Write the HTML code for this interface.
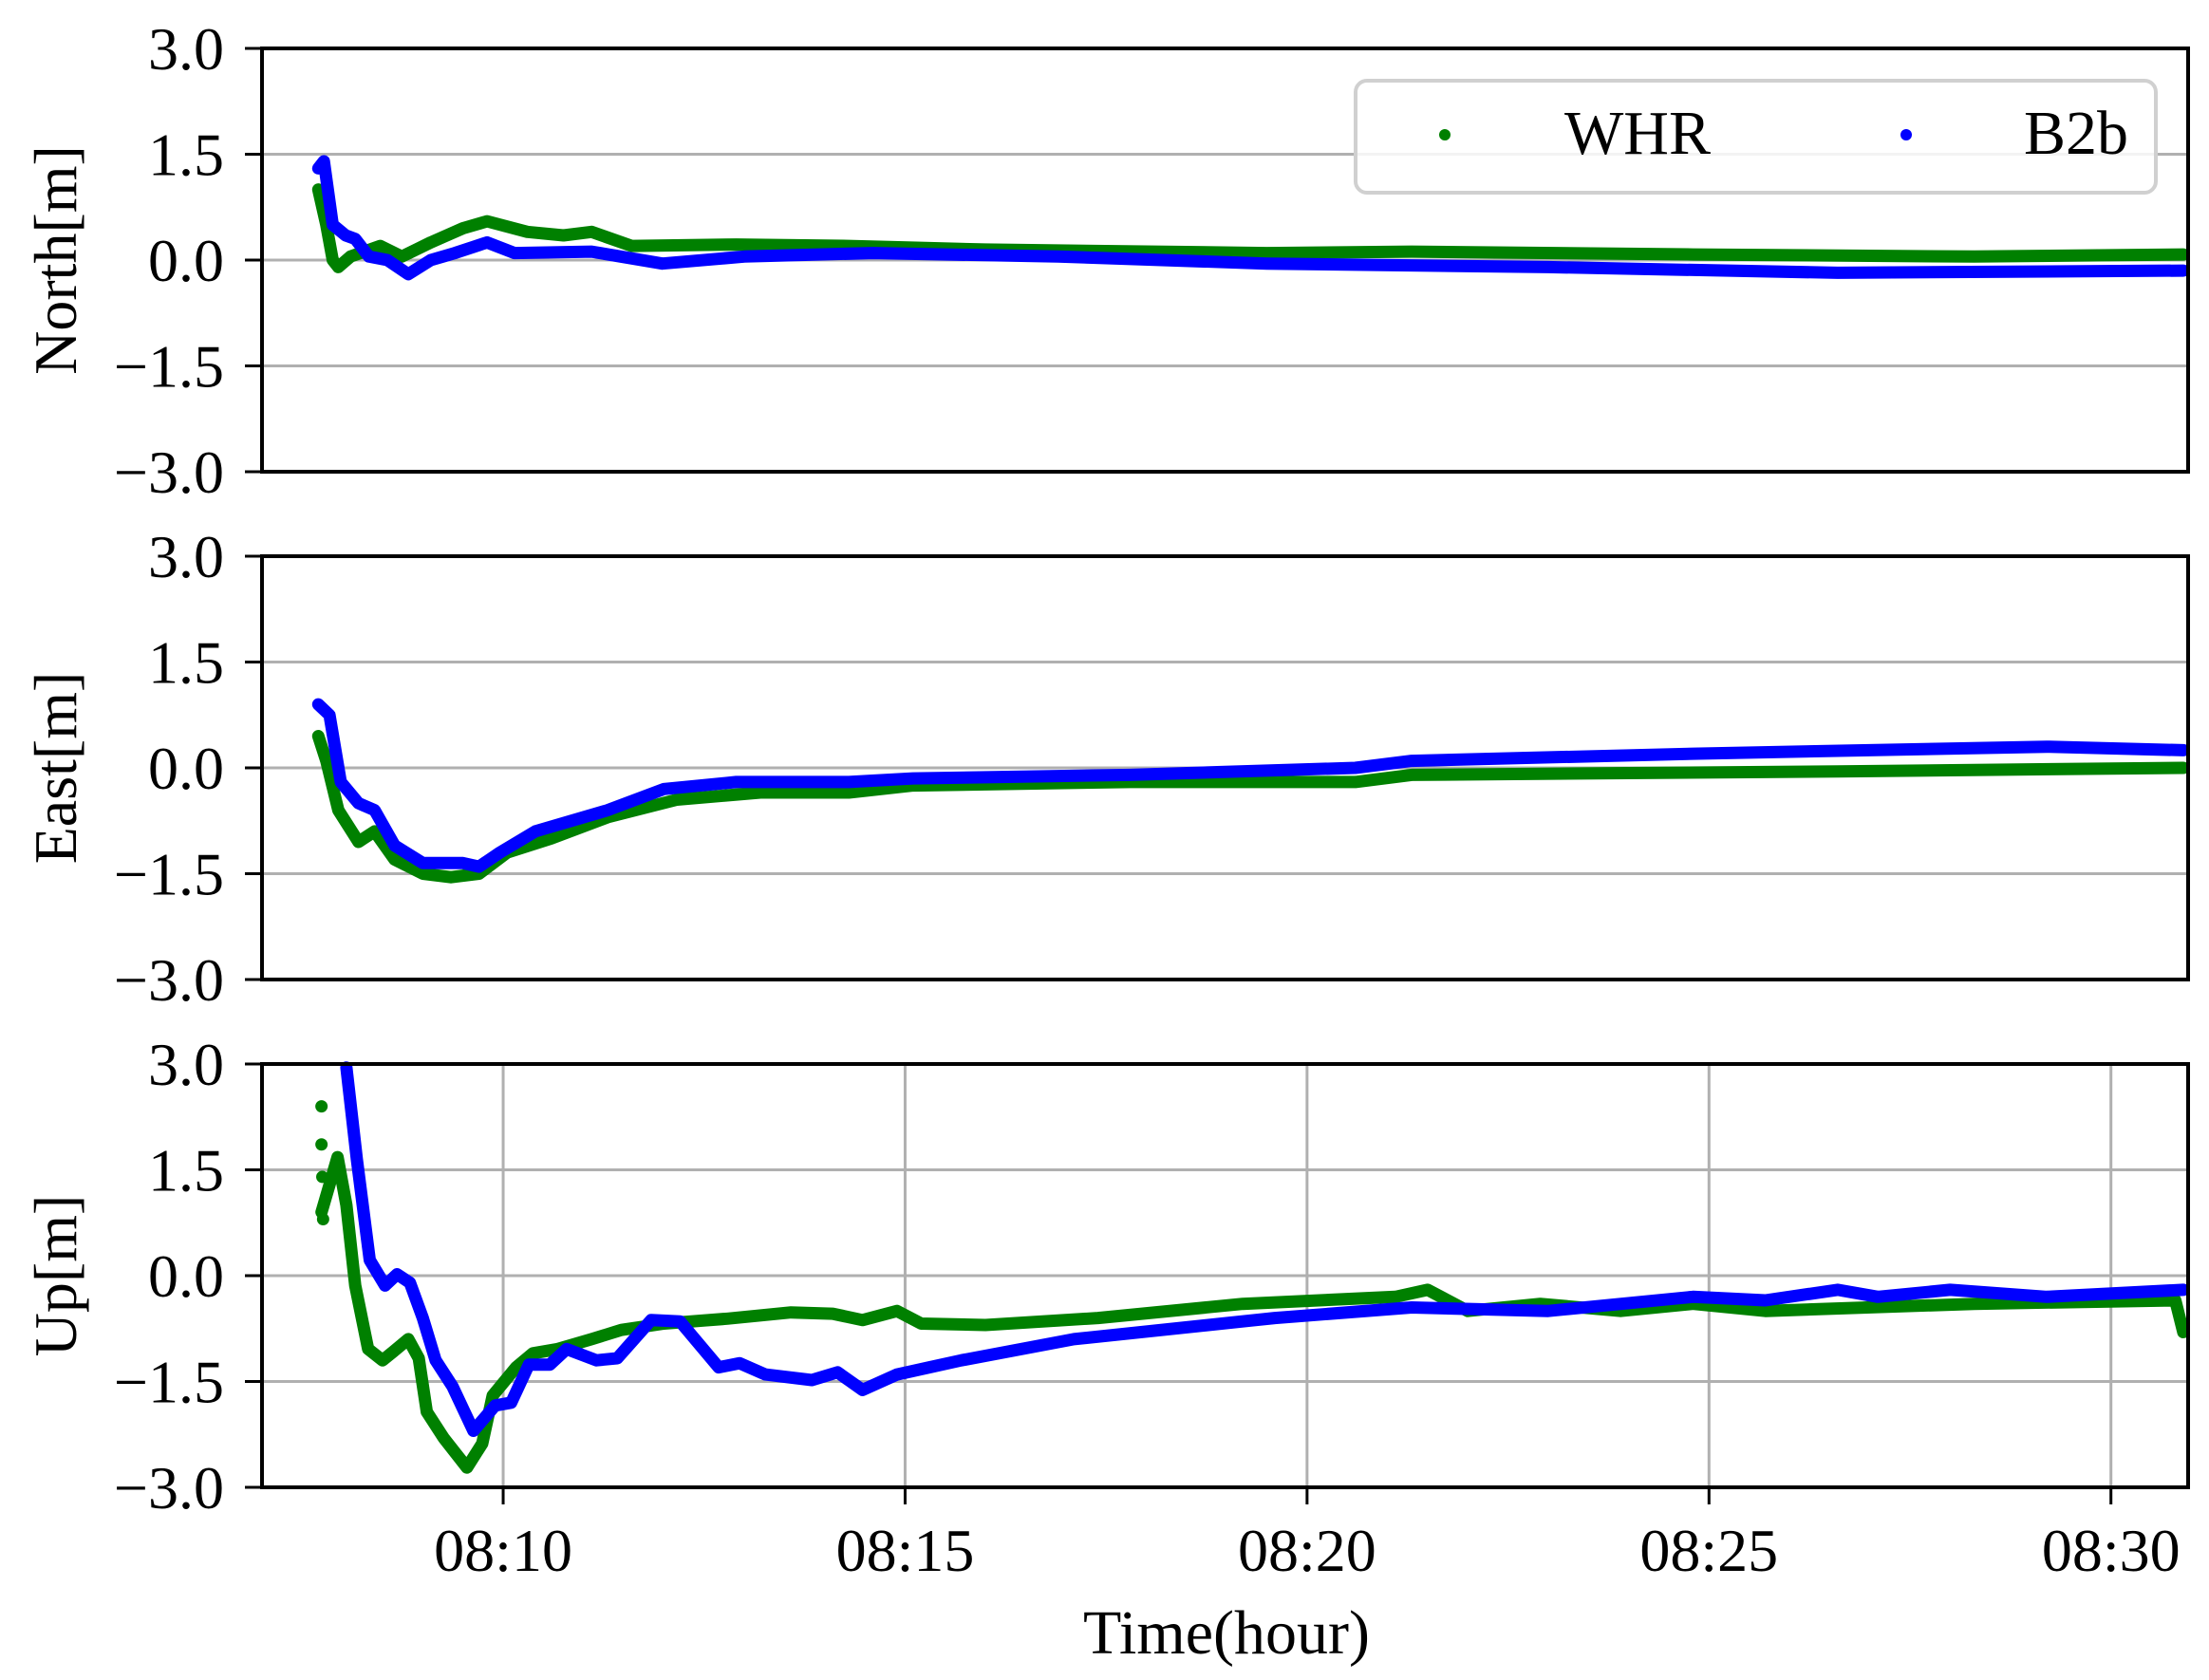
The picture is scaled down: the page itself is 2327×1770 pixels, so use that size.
<!DOCTYPE html>
<html><head><meta charset="utf-8"><style>
html,body{margin:0;padding:0;background:#fff;}
svg{display:block;font-family:"Liberation Serif","DejaVu Serif",serif;}
</style></head><body>
<svg id="chart" width="2327" height="1770" viewBox="0 0 2327 1770" xmlns="http://www.w3.org/2000/svg"></svg>
<script>
const xTickVals=[10,15,20,25,30];
const xTickLabels=["08:10","08:15","08:20","08:25","08:30"];
const yTickVals=[3,1.5,0,-1.5,-3];
const yTickLabels=["3.0","1.5","0.0","\u22121.5","\u22123.0"];
const panelNames=["North[m]","East[m]","Up[m]"];
const northT_whr=[7.7,7.8,7.88,7.95,8.1,8.47,8.74,9.1,9.5,9.8,10.3,10.75,11.1,11.6,12.9,14.3,16,19.5,21.3,24.8,28.3,30.9];
const northV_whr=[1.0,0.5,0.0,-0.1,0.05,0.2,0.05,0.25,0.45,0.55,0.4,0.35,0.4,0.2,0.22,0.2,0.15,0.1,0.12,0.08,0.05,0.08];
const northT_b2b=[7.7,7.77,7.88,8.04,8.16,8.33,8.56,8.82,9.1,9.4,9.8,10.14,11.1,11.98,13.0,14.6,16.9,19.5,23,26.6,30.9];
const northV_b2b=[1.3,1.4,0.5,0.35,0.3,0.05,0.0,-0.2,0.0,0.1,0.25,0.1,0.12,-0.05,0.05,0.1,0.05,-0.05,-0.1,-0.18,-0.15];
const eastT_whr=[7.7,7.8,7.95,8.2,8.4,8.65,9.0,9.35,9.7,10.05,10.6,11.3,12.16,13.2,14.3,15.1,17.8,20.6,21.3,26.6,30.9];
const eastV_whr=[0.45,0.1,-0.6,-1.05,-0.9,-1.3,-1.5,-1.55,-1.5,-1.2,-1.0,-0.7,-0.45,-0.35,-0.35,-0.25,-0.2,-0.2,-0.1,-0.05,0.0];
const eastT_b2b=[7.7,7.84,7.98,8.2,8.4,8.65,9.0,9.5,9.7,9.96,10.4,11.3,12.0,12.9,14.3,15.1,17.8,20.6,21.3,24.8,29.2,30.9];
const eastV_b2b=[0.9,0.75,-0.2,-0.5,-0.6,-1.1,-1.35,-1.35,-1.4,-1.2,-0.9,-0.6,-0.3,-0.2,-0.2,-0.15,-0.1,0.0,0.1,0.2,0.3,0.25];
const upT_whr=[7.74,7.94,8.05,8.16,8.32,8.5,8.63,8.82,8.95,9.05,9.26,9.55,9.74,9.87,10.16,10.37,10.68,11.1,11.47,12.0,12.79,13.58,14.1,14.47,14.9,15.2,16.0,17.4,19.2,21.1,21.5,22,22.9,23.9,24.8,25.7,28.3,30.8,30.9];
const upV_whr=[0.9,1.68,1.0,-0.14,-1.04,-1.2,-1.08,-0.9,-1.17,-1.93,-2.3,-2.72,-2.38,-1.7,-1.3,-1.1,-1.04,-0.9,-0.77,-0.68,-0.61,-0.52,-0.54,-0.63,-0.5,-0.68,-0.7,-0.6,-0.4,-0.3,-0.2,-0.5,-0.4,-0.5,-0.4,-0.5,-0.4,-0.35,-0.8];
const upT_b2b=[8.05,8.18,8.34,8.53,8.68,8.84,9.0,9.16,9.37,9.63,9.9,10.1,10.32,10.58,10.79,11.16,11.42,11.84,12.2,12.68,12.94,13.26,13.84,14.16,14.47,14.9,15.3,15.7,17.1,19.6,21.3,23,24.8,25.7,26.6,27.1,28,29.2,30.9];
const upV_b2b=[2.95,1.65,0.22,-0.14,0.02,-0.1,-0.6,-1.2,-1.57,-2.2,-1.84,-1.8,-1.26,-1.26,-1.04,-1.2,-1.17,-0.63,-0.65,-1.3,-1.24,-1.4,-1.48,-1.37,-1.62,-1.4,-1.3,-1.2,-0.9,-0.6,-0.45,-0.5,-0.3,-0.35,-0.2,-0.3,-0.2,-0.3,-0.2];
const upOutT=[7.74,7.74,7.75,7.76];
const upOutV=[2.4,1.86,1.4,0.8];

const svg=document.getElementById('chart');
const NS='http://www.w3.org/2000/svg';
function mk(tag,attrs,parent){const e=document.createElementNS(NS,tag);for(const k in attrs)e.setAttribute(k,attrs[k]);(parent||svg).appendChild(e);return e;}
const L=276,R=2305,X0=7.0,X1=30.96;
const tops=[51,586,1121],H=446;
function xs(t){return L+(t-X0)/(X1-X0)*(R-L);}
function ysFor(i){return v=>tops[i]+(3-v)/6*H;}
const series=[[northT_whr,northV_whr,northT_b2b,northV_b2b],[eastT_whr,eastV_whr,eastT_b2b,eastV_b2b],[upT_whr,upV_whr,upT_b2b,upV_b2b]];
const keys=['north','east','up'];
for(let i=0;i<3;i++){
  const ys=ysFor(i);const top=tops[i];
  const g=mk('g',{});
  
  
  yTickVals.forEach((v,j)=>{
    if(j>0&&j<4){const ln=mk('line',{x1:L,x2:R,y1:ys(v),y2:ys(v),stroke:'#b0b0b0','stroke-width':3},g);
    }
  });
  if(i===2){xTickVals.forEach(v=>{const ln=mk('line',{x1:xs(v),x2:xs(v),y1:top,y2:top+H,stroke:'#b0b0b0','stroke-width':3},g);
    });}
  const s=series[i];
  const cols=['#008000','#0000ff'];const nm=['whr','b2b'];
  for(let k=0;k<2;k++){
    const T=s[2*k],V=s[2*k+1];
    const pts=T.map((t,j)=>xs(t).toFixed(1)+','+ys(V[j]).toFixed(1)).join(' ');
    const p=mk('polyline',{points:pts,fill:'none',stroke:cols[k],'stroke-width':13,'stroke-linejoin':'round','stroke-linecap':'round'},g);
    
    
  }
  if(i===2){upOutT.forEach((t,j)=>{const c=mk('circle',{cx:xs(t),cy:ys(upOutV[j]),r:6.5,fill:'#008000'},g);
    });}
  const fr=mk('rect',{x:L,y:top,width:R-L,height:H,fill:'none',stroke:'#000','stroke-width':4},g);
  
  yTickVals.forEach((v,j)=>{
    mk('line',{x1:L-18,x2:L,y1:ys(v),y2:ys(v),stroke:'#000','stroke-width':3},g);
    const tx=mk('text',{x:236,y:ys(v)+22,'text-anchor':'end','font-size':64},g);
    tx.textContent=yTickLabels[j];
    
  });
  const yl=mk('text',{x:0,y:0,'text-anchor':'middle','font-size':64,transform:`translate(80,${top+H/2}) rotate(-90)`},g);
  yl.textContent=panelNames[i];
  
}
xTickVals.forEach((v,j)=>{
  mk('line',{x1:xs(v),x2:xs(v),y1:tops[2]+H,y2:tops[2]+H+18,stroke:'#000','stroke-width':3});
  const tx=mk('text',{x:xs(v),y:1655,'text-anchor':'middle','font-size':64});
  tx.textContent=xTickLabels[j];
  
});
const xt=mk('text',{x:1292,y:1742,'text-anchor':'middle','font-size':66});
xt.textContent='Time(hour)';

const lg=mk('g',{});

mk('rect',{x:1428,y:85,width:843,height:118,rx:12,fill:'rgba(255,255,255,0.85)',stroke:'#d0d0d0','stroke-width':4},lg);
const e1=mk('g',{},lg);
mk('circle',{cx:1522,cy:142,r:6,fill:'#008000'},e1);
const t1=mk('text',{x:1648,y:162,'font-size':66},e1);t1.textContent='WHR';
const e2=mk('g',{},lg);
mk('circle',{cx:2008,cy:142,r:6,fill:'#0000ff'},e2);
const t2=mk('text',{x:2132,y:162,'font-size':66},e2);t2.textContent='B2b';
</script>
</body></html>
